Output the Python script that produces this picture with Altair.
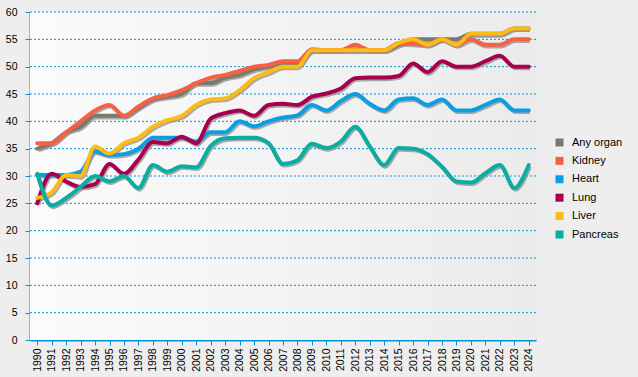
import altair as alt
import pandas as pd

years = list(range(1990, 2025))
series_names = ["Any organ", "Kidney", "Heart", "Lung", "Liver", "Pancreas"]
series_colors = ["#7b7b6b", "#f85f45", "#0a9fe0", "#a6004f", "#fdbb15", "#0aada1"]
y_ticks = list(range(0, 61, 5))

any_organ = [35, 36, 38, 39, 41, 41, 41, 42.5, 44, 44.5,
             45, 47, 47, 48, 48.5, 49.5, 50, 50.3, 50.5, 53,
             53, 53, 53, 53, 53, 54, 55, 55, 55, 55,
             56, 56, 56, 57, 57]
kidney = [36, 36, 38, 40, 42, 43, 41, 42.7, 44.2, 44.8,
          45.7, 47, 48, 48.5, 49.2, 50, 50.3, 51, 51, 53.2,
          53, 53, 54, 53, 53, 54.3, 54.2, 54, 55, 54,
          55, 54, 54, 55, 55]
heart = [30.2, 30.2, 30.2, 30.8, 34.5, 33.8, 34, 35, 37, 37,
         37, 36.3, 38, 38, 40, 39.1, 40, 40.7, 41.1, 43,
         42, 43.7, 45, 43.2, 42, 44, 44.2, 43, 44, 42,
         42, 43, 44, 42, 42]
lung = [25, 30.4, 29, 28, 28.5, 32.2, 30.4, 33, 36.2, 36,
        37.2, 36, 40.5, 41.5, 42, 41, 43, 43.2, 43, 44.5,
        45.1, 46, 47.9, 48, 48, 48.3, 50.6, 49, 51, 50,
        50, 51, 52, 50, 50]
liver = [26, 27, 30.2, 30, 35.4, 34.1, 36, 37, 39, 40.2,
         41, 43, 44, 44.2, 45.7, 47.9, 49, 50, 50, 53,
         53, 53, 53, 53, 53, 54.3, 55, 54, 55, 54,
         56, 56, 56, 57, 57]
pancreas = [30.4, 24.6, 26, 28, 30, 29, 30, 27.8, 32, 30.8,
            31.8, 31.6, 35.5, 36.9, 37, 37, 36, 32.2, 32.9, 35.9,
            35.1, 36.3, 39, 35.4, 32, 35.1, 35, 34, 31.7, 29,
            28.8, 30.5, 32, 27.8, 32]

all_series = [any_organ, kidney, heart, lung, liver, pancreas]
rows = []
for name, vals in zip(series_names, all_series):
    for yr, v in zip(years, vals):
        rows.append({"year": yr, "value": v, "organ": name})
df = pd.DataFrame(rows)
grid_df = pd.DataFrame({"v": y_ticks[1:]})

FONT = "Liberation Sans"
BLUE = "#0096d6"
W, H = 506, 328

xscale = alt.Scale(domain=[1989.5, 2024.5], nice=False, zero=False)
yscale = alt.Scale(domain=[0, 60], nice=False)
cscale = alt.Scale(domain=series_names, range=series_colors)

xaxis = alt.Axis(values=years, format="d", title=None, labelAngle=270,
                 labelAlign="right", labelBaseline="middle", grid=False,
                 tickSize=5, labelPadding=3, domainWidth=2)
yaxis = alt.Axis(values=y_ticks, title=None, grid=False,
                 tickSize=5, labelPadding=8, domainWidth=2)

bg = alt.Chart(pd.DataFrame({"a": [0]})).mark_rect(
    color=alt.LinearGradient(
        gradient="linear", x1=0, y1=0, x2=1, y2=0,
        stops=[alt.GradientStop(offset=0, color="#fbfbfb"),
               alt.GradientStop(offset=1, color="#ebebeb")],
    )
).encode(x=alt.value(0), x2=alt.value(W), y=alt.value(0), y2=alt.value(H))

grid = alt.Chart(grid_df).mark_rule(color=BLUE, strokeWidth=1, strokeDash=[2, 2]).encode(
    y=alt.Y("v:Q", scale=yscale, axis=yaxis)
)

shadow = alt.Chart(df).transform_calculate(
    sx="datum.year + 0.08", sy="datum.value - 0.3"
).mark_line(interpolate="monotone", strokeWidth=4, color="#959595", opacity=0.8).encode(
    x=alt.X("sx:Q", scale=xscale, axis=xaxis),
    y=alt.Y("sy:Q", scale=yscale, axis=yaxis),
    detail="organ:N",
)

lines = alt.Chart(df).mark_line(interpolate="monotone", strokeWidth=4, strokeCap="round").encode(
    x=alt.X("year:Q", scale=xscale, axis=xaxis),
    y=alt.Y("value:Q", scale=yscale, axis=yaxis),
    color=alt.Color("organ:N", scale=cscale,
                    legend=alt.Legend(title=None, orient="none", legendX=524, legendY=125,
                                      symbolType="square", symbolSize=64, symbolStrokeWidth=0,
                                      symbolFillColor=alt.ExprRef("scale('color', datum.value)"),
                                      symbolOpacity=1,
                                      labelFontSize=11, labelFont=FONT, labelColor="#000000",
                                      labelOffset=7, rowPadding=6.4, padding=0)),
)

chart = alt.layer(bg, grid, shadow, lines).properties(
    width=W, height=H,
    autosize=alt.AutoSizeParams(type="none"),
    padding={"left": 30, "top": 12, "right": 102, "bottom": 37},
    background="#eeeeee",
).configure_view(
    strokeWidth=0,
).configure_axis(
    domainColor=BLUE, tickColor=BLUE, labelColor="#000000",
    labelFont=FONT, labelFontSize=10.5,
)

chart.save("out.html", embed_options={"renderer": "svg", "actions": False})
